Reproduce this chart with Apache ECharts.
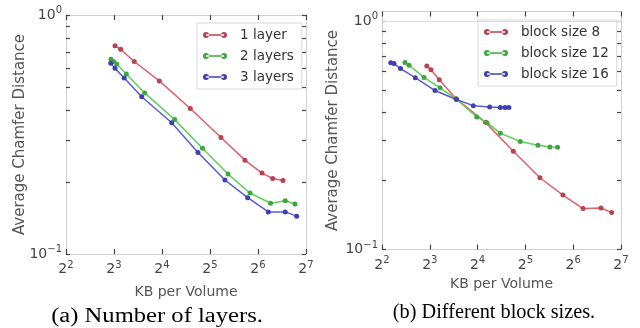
<!DOCTYPE html>
<html><head><meta charset="utf-8">
<script src="https://cdn.jsdelivr.net/npm/echarts@6/dist/echarts.min.js"></script>
<style>html,body{margin:0;padding:0;background:#fff}#c{width:640px;height:328px}</style>
</head><body><div id="c"></div>
<script>
// ---- data ----
const xTickValues = [4, 8, 16, 32, 64, 128];
const yLabelValues = [0.1, 1];
const yTickValues = [0.1, 0.2, 0.3, 0.4, 0.5, 0.6, 0.7, 0.8, 0.9, 1];

const legendA = ['1 layer', '2 layers', '3 layers'];
const layer1X = [8.12, 8.81, 10.71, 15.39, 24.08, 37.5, 53.0, 67.8, 79.1, 91.8];
const layer1Y = [0.744, 0.719, 0.639, 0.530, 0.406, 0.307, 0.247, 0.218, 0.207, 0.203];
const layer2X = [7.66, 7.94, 8.32, 9.56, 12.46, 19.22, 28.7, 41.5, 57.0, 76.7, 94.9, 109.2];
const layer2Y = [0.653, 0.639, 0.624, 0.566, 0.472, 0.365, 0.277, 0.216, 0.180, 0.163, 0.167, 0.162];
const layer3X = [7.63, 8.12, 9.27, 11.94, 18.41, 26.9, 39.7, 55.1, 74.3, 94.9, 111.9];
const layer3Y = [0.628, 0.598, 0.545, 0.455, 0.354, 0.266, 0.204, 0.172, 0.150, 0.150, 0.144];

const legendB = ['block size 8', 'block size 12', 'block size 16'];
const block8X = [7.66, 8.14, 9.18, 11.70, 17.94, 26.85, 39.5, 55.2, 73.8, 95.8, 111.8];
const block8Y = [0.636, 0.612, 0.553, 0.457, 0.360, 0.269, 0.206, 0.173, 0.151, 0.152, 0.145];
const block12X = [5.58, 5.92, 7.35, 9.28, 11.78, 15.79, 18.34, 22.24, 29.7, 38.4, 45.7, 51.0];
const block12Y = [0.658, 0.640, 0.566, 0.510, 0.455, 0.380, 0.359, 0.323, 0.297, 0.286, 0.281, 0.280];
const block16X = [4.54, 4.76, 5.23, 6.48, 8.63, 11.75, 15.03, 19.07, 22.24, 23.8, 25.2];
const block16Y = [0.657, 0.651, 0.619, 0.565, 0.496, 0.453, 0.426, 0.420, 0.418, 0.418, 0.418];

const captionA = '(a) Number of layers.';
const captionB = '(b) Different block sizes.';
const xName = 'KB per Volume';
const yName = 'Average Chamfer Distance';

// ---- styles ----
const FONT = 'DejaVu Sans';
const lineColors = ['#e0606a', '#5ad25a', '#5a5ad6'];
const markColors = ['#b8424e', '#3fa53f', '#3f3fb0'];
const frameColor = '#cfcfcf';
const tickColor = '#444';
const legendIcon = 'path://M0,3a3,3 0 1,0 6,0a3,3 0 1,0 -6,0Z M18,3a3,3 0 1,0 6,0a3,3 0 1,0 -6,0Z M3,2.3H21V3.7H3Z';

function zip(xs, ys) { return xs.map((x, i) => [x, ys[i]]); }
function sup(n) { return n < 0 ? '\u2212' + (-n) : String(n); }

const richLabel = {
  b: { fontSize: 14, fontFamily: FONT, color: '#444', lineHeight: 16 },
  s: { fontSize: 10, fontFamily: FONT, color: '#444', padding: [0, 0, 9, 0] }
};

function xAxisDef(grid, pos, showLabel) {
  return {
    type: 'log', logBase: 2, gridIndex: grid, position: pos,
    min: 4, max: 128,
    name: showLabel ? xName : '', nameLocation: 'middle', nameMoveOverlap: false,
    nameGap: grid === 0 ? 31 : 28,
    nameTextStyle: { fontFamily: FONT, fontSize: 14, color: '#555' },
    axisLine: { show: true, lineStyle: { color: frameColor, width: 1 } },
    axisTick: { show: true, inside: true, length: 5, lineStyle: { color: tickColor, width: 1.2 }, customValues: xTickValues },
    axisLabel: {
      show: showLabel, margin: 6, customValues: xTickValues,
      formatter: v => '{b|2}{s|' + sup(Math.round(Math.log2(v))) + '}', rich: richLabel
    },
    splitLine: { show: false }
  };
}
function yAxisDef(grid, pos, showLabel, maxV) {
  return {
    type: 'log', logBase: 10, gridIndex: grid, position: pos,
    min: 0.1, max: maxV,
    name: showLabel ? yName : '', nameLocation: 'middle', nameMoveOverlap: false,
    nameGap: grid === 0 ? 38 : 41,
    nameTextStyle: { fontFamily: FONT, fontSize: 15, color: '#555' },
    axisLine: { show: true, lineStyle: { color: frameColor, width: 1 } },
    axisTick: { show: true, inside: true, length: 4, lineStyle: { color: tickColor, width: 1.2 }, customValues: yTickValues },
    axisLabel: {
      show: showLabel, margin: 4, customValues: yLabelValues,
      formatter: v => '{b|10}{s|' + sup(Math.round(Math.log10(v))) + '}', rich: richLabel
    },
    splitLine: { show: false }
  };
}
function seriesDef(name, xs, ys, idx, grid, extra) {
  return Object.assign({
    name, type: 'line', xAxisIndex: grid * 2, yAxisIndex: grid * 2,
    data: zip(xs, ys), symbol: 'circle', symbolSize: 5, showSymbol: true,
    lineStyle: { color: lineColors[idx], width: 1.5 },
    itemStyle: { color: markColors[idx] },
    emphasis: { disabled: true }, animation: false, z: 3 + idx
  }, extra || {});
}
function legendDef(data, left, top) {
  return {
    data: data.map(n => ({ name: n, icon: legendIcon })), orient: 'vertical', left, top,
    itemWidth: 24, itemHeight: 6, itemGap: 7,
    padding: [5, 8, 5, 6],
    borderColor: '#d8d8d8', borderWidth: 1, backgroundColor: '#fff',
    textStyle: { fontFamily: FONT, fontSize: 13.5, color: '#333', padding: [0, 0, 0, 8] },
    selectedMode: false
  };
}

const chart = echarts.init(document.getElementById('c'), null, { renderer: 'canvas' });
chart.setOption({
  animation: false,
  backgroundColor: '#fff',
  grid: [
    { left: 66, top: 15, width: 240, height: 239 },
    { left: 382, top: 11.5, width: 239, height: 238 }
  ],
  xAxis: [
    xAxisDef(0, 'bottom', true), xAxisDef(0, 'top', false),
    xAxisDef(1, 'bottom', true), xAxisDef(1, 'top', false)
  ],
  yAxis: [
    yAxisDef(0, 'left', true, 1), yAxisDef(0, 'right', false, 1),
    yAxisDef(1, 'left', true, 1.1), yAxisDef(1, 'right', false, 1.1)
  ],
  legend: [legendDef(legendA, 197, 23), legendDef(legendB, 478, 20)],
  series: [
    seriesDef(legendA[0], layer1X, layer1Y, 0, 0),
    seriesDef(legendA[1], layer2X, layer2Y, 1, 0),
    seriesDef(legendA[2], layer3X, layer3Y, 2, 0),
    seriesDef(legendB[0], block8X, block8Y, 0, 1, {
      markLine: { silent: true, symbol: 'none', label: { show: false },
        lineStyle: { color: '#dcdcdc', type: 'solid', width: 1 }, data: [{ yAxis: 1 }] }
    }),
    seriesDef(legendB[1], block12X, block12Y, 1, 1),
    seriesDef(legendB[2], block16X, block16Y, 2, 1)
  ],
  graphic: [
    { type: 'text', x: 157, y: 317, scaleX: 1.2, originX: 0, style: { text: captionA, textAlign: 'center', textVerticalAlign: 'middle', font: '20.5px "Liberation Serif"', fill: '#000' } },
    { type: 'text', x: 494, y: 313, style: { text: captionB, textAlign: 'center', textVerticalAlign: 'middle', font: '20.3px "Liberation Serif"', fill: '#000' } }
  ]
});
</script>
</body></html>
